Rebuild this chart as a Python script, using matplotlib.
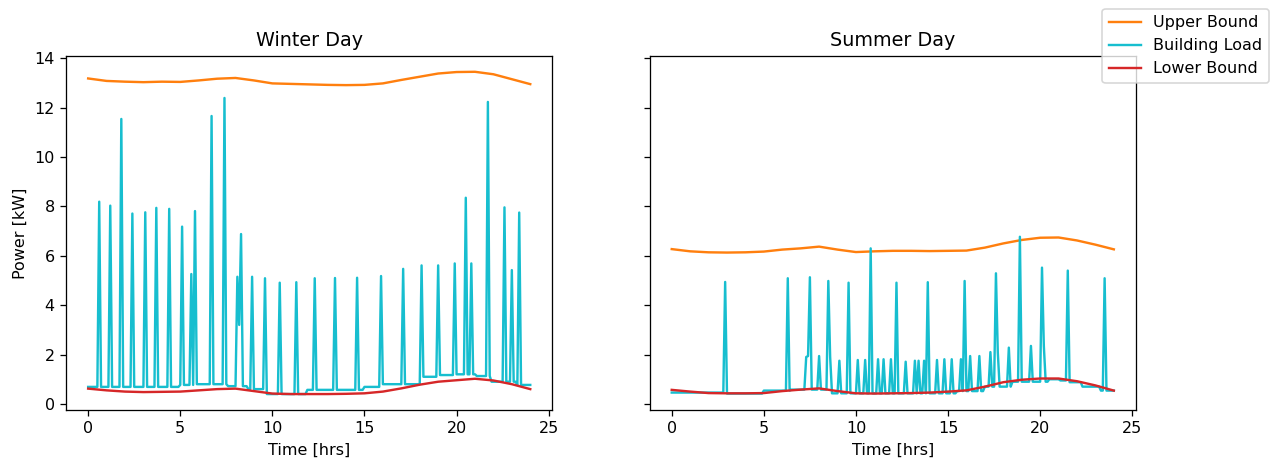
import numpy as np
import matplotlib
matplotlib.use("Agg")
import matplotlib.pyplot as plt

# ---------------- data ----------------
# bounds, hourly samples (hrs 0..24)
bound_hours = list(range(25))
winter_upper = [13.18, 13.08, 13.05, 13.03, 13.05, 13.04, 13.10, 13.17, 13.20, 13.10,
                12.98, 12.96, 12.94, 12.92, 12.91, 12.92, 12.98, 13.12, 13.25, 13.38,
                13.44, 13.45, 13.35, 13.15, 12.95]
winter_lower = [0.62, 0.55, 0.50, 0.48, 0.49, 0.50, 0.55, 0.60, 0.62, 0.52,
                0.42, 0.40, 0.40, 0.40, 0.41, 0.43, 0.50, 0.63, 0.78, 0.90,
                0.96, 1.02, 0.95, 0.80, 0.60]
summer_upper = [6.27, 6.18, 6.14, 6.13, 6.14, 6.17, 6.25, 6.30, 6.37, 6.25,
                6.15, 6.18, 6.20, 6.20, 6.19, 6.20, 6.21, 6.33, 6.50, 6.64,
                6.73, 6.74, 6.62, 6.45, 6.26]
summer_lower = [0.57, 0.50, 0.44, 0.43, 0.43, 0.44, 0.52, 0.58, 0.63, 0.52,
                0.43, 0.42, 0.43, 0.44, 0.46, 0.50, 0.55, 0.70, 0.88, 0.98,
                1.03, 1.03, 0.92, 0.75, 0.54]

# building load: baseline segments (start hour, level) and spikes (hour, peak)
winter_base_start = [0.0, 5.0, 5.9, 7.6, 8.7, 9.7, 11.9, 15.0, 16.0, 18.2, 19.1, 20.0, 21.1, 21.9, 23.3]
winter_base_level = [0.69, 0.77, 0.80, 0.72, 0.60, 0.40, 0.57, 0.69, 0.80, 1.10, 1.17, 1.20, 1.13, 0.90, 0.77]
winter_spike_hour = [0.6, 1.2, 1.8, 2.4, 3.1, 3.7, 4.4, 5.1, 5.6, 5.8, 6.7, 7.4,
                     8.1, 8.2, 8.3, 8.9, 9.6, 10.4, 11.3, 12.3, 13.4, 14.6, 15.9,
                     17.1, 18.1, 19.0, 19.9, 20.5, 20.8, 21.7, 22.6, 23.0, 23.4]
winter_spike_peak = [8.19, 8.03, 11.54, 7.71, 7.76, 7.94, 7.90, 7.18, 5.26, 7.81, 11.66, 12.39,
                     5.15, 3.20, 6.88, 5.15, 5.09, 4.91, 4.93, 5.09, 5.10, 5.11, 5.18,
                     5.47, 5.61, 5.61, 5.69, 8.35, 5.69, 12.23, 7.96, 5.42, 7.75]

summer_base_start = [0.0, 3.0, 5.0, 6.5, 8.7, 15.5, 17.0, 18.5, 20.5, 21.1, 21.6, 22.3, 23.3]
summer_base_level = [0.46, 0.42, 0.54, 0.58, 0.43, 0.52, 0.70, 0.90, 1.00, 0.95, 0.88, 0.70, 0.54]
summer_spike_hour = [2.9, 6.3, 7.3, 7.4, 7.5, 8.0, 8.5, 8.6, 9.1, 9.6, 10.1, 10.5, 10.8,
                     11.2, 11.5, 11.9, 12.2, 12.7, 13.2, 13.4, 13.7, 13.9, 14.4, 14.8,
                     15.2, 15.7, 15.9, 16.2, 16.7, 17.3, 17.6, 17.7, 18.3, 18.9, 19.5,
                     20.1, 20.2, 21.5, 23.5]
summer_spike_peak = [4.94, 5.09, 1.90, 1.94, 5.13, 1.94, 4.98, 1.90, 1.75, 4.91, 1.78, 1.78, 6.30,
                     1.81, 1.81, 1.81, 4.91, 1.71, 1.75, 1.75, 1.75, 4.93, 1.78, 1.81,
                     1.81, 1.81, 4.98, 1.94, 1.94, 2.10, 5.29, 2.10, 2.28, 6.77, 2.35,
                     5.52, 2.35, 5.40, 5.09]

DT = 0.1


def build_load(base_start, base_level, spike_hour, spike_peak):
    t = np.round(np.arange(0, 24 + DT / 2, DT), 2)
    idx = np.searchsorted(base_start, t, side="right") - 1
    y = np.array(base_level)[idx].astype(float)
    for h, p in zip(spike_hour, spike_peak):
        y[int(round(h / DT))] = p
    return t, y


wt, wy = build_load(winter_base_start, winter_base_level, winter_spike_hour, winter_spike_peak)
st, sy = build_load(summer_base_start, summer_base_level, summer_spike_hour, summer_spike_peak)

# ---------------- plot ----------------
DPI = 115
fig, axes = plt.subplots(1, 2, figsize=(1285 / DPI, 464 / DPI), dpi=DPI, sharey=True)
fig.subplots_adjust(left=0.0514, right=0.884, bottom=0.116, top=0.88, wspace=0.2)

panels = [
    (axes[0], "Winter Day", winter_upper, wt, wy, winter_lower),
    (axes[1], "Summer Day", summer_upper, st, sy, summer_lower),
]
for ax, title, up, t, y, lo in panels:
    ax.plot(bound_hours, up, color="tab:orange", label="Upper Bound")
    ax.plot(t, y, color="tab:cyan", label="Building Load")
    ax.plot(bound_hours, lo, color="tab:red", label="Lower Bound")
    ax.set_title(title, fontsize=12)
    ax.set_xlabel("Time [hrs]")
    ax.set_xticks([0, 5, 10, 15, 20, 25])

axes[0].set_ylabel("Power [kW]")
axes[0].set_yticks([0, 2, 4, 6, 8, 10, 12, 14])

handles, labels = axes[0].get_legend_handles_labels()
fig.legend(handles, labels, loc="upper right",
           bbox_to_anchor=(1269 / 1285, 1 - 9 / 464), borderaxespad=0)

fig.savefig("out.png", dpi=DPI)
